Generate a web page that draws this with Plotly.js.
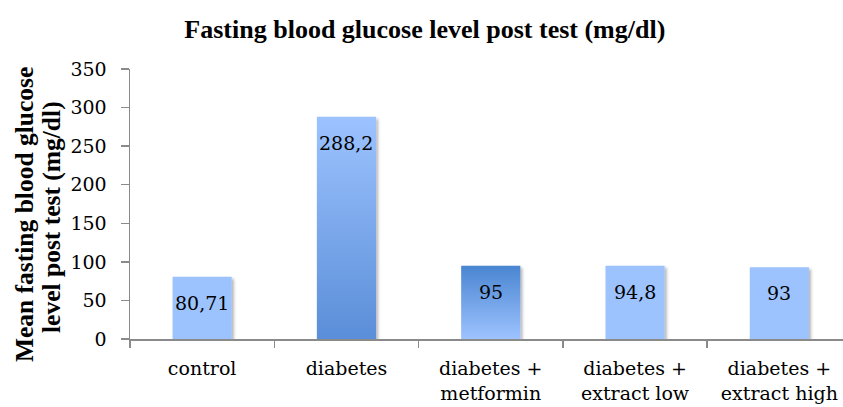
<!DOCTYPE html>
<html>
<head>
<meta charset="utf-8">
<script src="https://cdn.plot.ly/plotly-3.0.1.min.js"></script>
<style>
html,body{margin:0;padding:0;background:#fff;}
#chart{width:843px;height:407px;}
</style>
</head>
<body>
<div id="chart"></div>
<script>
// ---- data ----
var categories = ["control", "diabetes", "diabetes +<br>metformin", "diabetes +<br>extract low", "diabetes +<br>extract high"];
var values = [80.71, 288.2, 95, 94.8, 93];
var valueLabels = ["80,71", "288,2", "95", "94,8", "93"];
var yTickValues = [0, 50, 100, 150, 200, 250, 300, 350];
var yTitleLines = ["Mean fasting blood glucose", "level post test (mg/dl)"];

// ---- styles ----
var barTopColors    = ["#9DC3FF", "#9DC3FF", "#4A85D1", "#9DC3FF", "#9DC3FF"];
var barBottomColors = ["#9DC3FF", "#5A8ED8", "#9DC3FF", "#9DC3FF", "#9DC3FF"];
var tickFont = {family: "DejaVu Serif", size: 19, color: "#000"};
var boldSerif = {family: "Liberation Serif", size: 25.5, color: "#000", weight: "bold"};
var axisGray = "#8a8a8a";

var trace = {
  type: "bar",
  x: categories,
  y: values,
  width: 0.41,
  marker: {color: barTopColors, line: {width: 0}},
  hoverinfo: "skip"
};

var annotations = values.map(function (v, i) {
  return {
    x: categories[i], y: v, xref: "x", yref: "y",
    text: valueLabels[i], showarrow: false,
    xanchor: "center", yanchor: "middle", yshift: -26,
    font: tickFont
  };
});
var yTitleShifts = [-106, -78];
var yTitlePos = [0.459, 0.452];
yTitleLines.forEach(function (t, i) {
  annotations.push({
    xref: "paper", yref: "paper", x: 0, y: yTitlePos[i], xshift: yTitleShifts[i],
    xanchor: "center", yanchor: "middle", textangle: -90,
    text: t, showarrow: false, font: boldSerif
  });
});

var layout = {
  width: 843, height: 407,
  margin: {l: 130, r: 0, t: 69, b: 68},
  paper_bgcolor: "#fff", plot_bgcolor: "#fff",
  showlegend: false,
  title: {
    text: "<b>Fasting blood glucose level post test (mg/dl)</b>",
    xref: "container", yref: "container",
    x: 0.504, y: 1 - 29 / 407, xanchor: "center", yanchor: "middle",
    font: {family: "Liberation Serif", size: 26, color: "#000"}
  },
  xaxis: {
    type: "category",
    range: [-0.5, 4.441],
    showline: true, linecolor: axisGray, linewidth: 2,
    ticks: "outside", tickson: "boundaries", ticklen: 7, tickcolor: axisGray, tickwidth: 1.5,
    ticklabelstandoff: 11,
    showgrid: false, zeroline: false,
    tickfont: tickFont, automargin: false
  },
  yaxis: {
    range: [0, 350],
    tickvals: yTickValues,
    ticktext: yTickValues.map(String),
    showline: true, linecolor: axisGray, linewidth: 1.5,
    ticks: "outside", ticklen: 8, tickcolor: axisGray, tickwidth: 1.5,
    ticklabelstandoff: 10,
    showgrid: false, zeroline: false,
    tickfont: tickFont, automargin: false
  },
  annotations: annotations
};

Plotly.newPlot("chart", [trace], layout, {staticPlot: true, displayModeBar: false}).then(function (gd) {
  var svg = gd.querySelector("svg.main-svg");
  var ns = "http://www.w3.org/2000/svg";
  var defs = document.createElementNS(ns, "defs");
  values.forEach(function (v, i) {
    var g = document.createElementNS(ns, "linearGradient");
    g.setAttribute("id", "bargrad" + i);
    g.setAttribute("x1", "0"); g.setAttribute("y1", "0");
    g.setAttribute("x2", "0"); g.setAttribute("y2", "1");
    var s1 = document.createElementNS(ns, "stop");
    s1.setAttribute("offset", "0"); s1.setAttribute("stop-color", barTopColors[i]);
    var s2 = document.createElementNS(ns, "stop");
    s2.setAttribute("offset", "1"); s2.setAttribute("stop-color", barBottomColors[i]);
    g.appendChild(s1); g.appendChild(s2);
    defs.appendChild(g);
  });
  var f = document.createElementNS(ns, "filter");
  f.setAttribute("id", "barshadow");
  f.setAttribute("x", "-20%"); f.setAttribute("y", "-20%");
  f.setAttribute("width", "150%"); f.setAttribute("height", "150%");
  var ds = document.createElementNS(ns, "feDropShadow");
  ds.setAttribute("dx", "2"); ds.setAttribute("dy", "2");
  ds.setAttribute("stdDeviation", "1.5");
  ds.setAttribute("flood-color", "#000"); ds.setAttribute("flood-opacity", "0.3");
  f.appendChild(ds);
  defs.appendChild(f);
  svg.insertBefore(defs, svg.firstChild);
  var paths = gd.querySelectorAll(".barlayer .point path");
  paths.forEach(function (p, i) {
    p.style.fill = "url(#bargrad" + i + ")";
    p.setAttribute("filter", "url(#barshadow)");
  });
});
</script>
</body>
</html>
